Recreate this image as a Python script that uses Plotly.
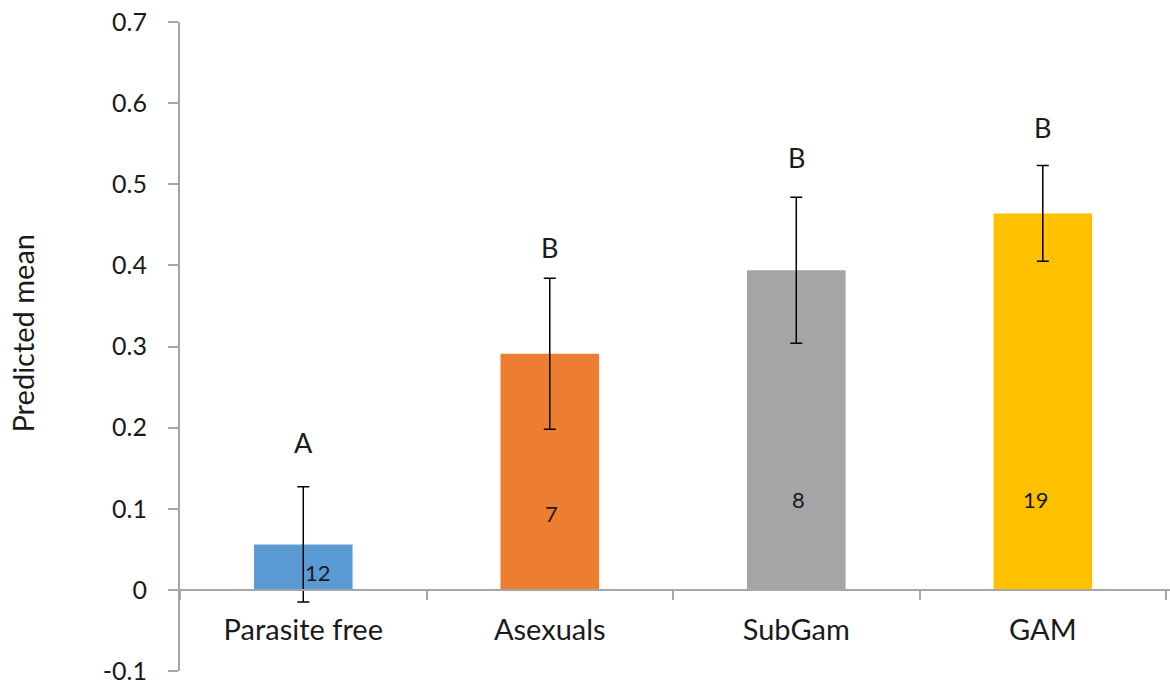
import plotly.graph_objects as go

categories = ["Parasite free", "Asexuals", "SubGam", "GAM"]
means = [0.056, 0.291, 0.394, 0.464]
errors = [0.071, 0.093, 0.090, 0.059]
colors = ["#5B9BD5", "#ED7D31", "#A5A5A5", "#FFC000"]
letters = ["A", "B", "B", "B"]
letter_y = [0.182, 0.422, 0.533, 0.570]
counts = ["12", "7", "8", "19"]
count_y = [0.022, 0.094, 0.111, 0.111]
count_xshift = [15, 2, 2, -7]

y_ticks = [-0.1, 0, 0.1, 0.2, 0.3, 0.4, 0.5, 0.6, 0.7]
y_ticktext = ["-0.1", "0", "0.1", "0.2", "0.3", "0.4", "0.5", "0.6", "0.7"]

FONT = "Lato"
AXIS_COLOR = "#a6a6a6"
TXT = "#1a1a1a"

fig = go.Figure()
fig.add_trace(go.Bar(
    x=categories, y=means,
    marker=dict(color=colors, line=dict(width=0)),
    width=0.4,
    error_y=dict(type="data", array=errors, visible=True,
                 color="black", thickness=1.5, width=6),
    showlegend=False,
))

for c, t, y in zip(categories, letters, letter_y):
    fig.add_annotation(x=c, y=y, text=t, showarrow=False,
                       font=dict(family=FONT, size=27, color=TXT))
for c, t, y, dx in zip(categories, counts, count_y, count_xshift):
    fig.add_annotation(x=c, y=y, text=t, showarrow=False, xshift=dx,
                       font=dict(family=FONT, size=22, color=TXT))

fig.add_annotation(xref="paper", yref="paper", x=0, y=0.52,
                   xanchor="center", yanchor="middle",
                   xshift=-157, text="Predicted mean", textangle=-90,
                   showarrow=False,
                   font=dict(family=FONT, size=29, color=TXT))

fig.update_layout(
    width=1170, height=684,
    margin=dict(l=180, r=0, t=22, b=13, autoexpand=False),
    paper_bgcolor="white", plot_bgcolor="white",
    xaxis=dict(
        type="category",
        range=[-0.5, 3.516],
        anchor="free", position=0.125,
        automargin=False,
        showline=True, linecolor=AXIS_COLOR, linewidth=2,
        ticks="outside", tickson="boundaries", ticklen=9,
        tickcolor=AXIS_COLOR, tickwidth=2,
        showgrid=False, zeroline=False,
        tickfont=dict(family=FONT, size=29, color=TXT),
        ticklabelstandoff=14,
    ),
    yaxis=dict(
        range=[-0.1, 0.7],
        automargin=False,
        tickvals=y_ticks, ticktext=y_ticktext,
        showline=True, linecolor=AXIS_COLOR, linewidth=2,
        ticks="outside", ticklen=10, tickcolor=AXIS_COLOR, tickwidth=2,
        showgrid=False, zeroline=False,
        tickfont=dict(family=FONT, size=25, color=TXT),
        ticklabelstandoff=16,
        ticklabeloverflow="allow",
    ),
)

# remove the default 8px page margin so the figure fills the window exactly
fig.write_html(
    "out.html",
    config={"displayModeBar": False},
    post_script="document.body.style.margin='0';document.body.style.overflow='hidden';",
)
